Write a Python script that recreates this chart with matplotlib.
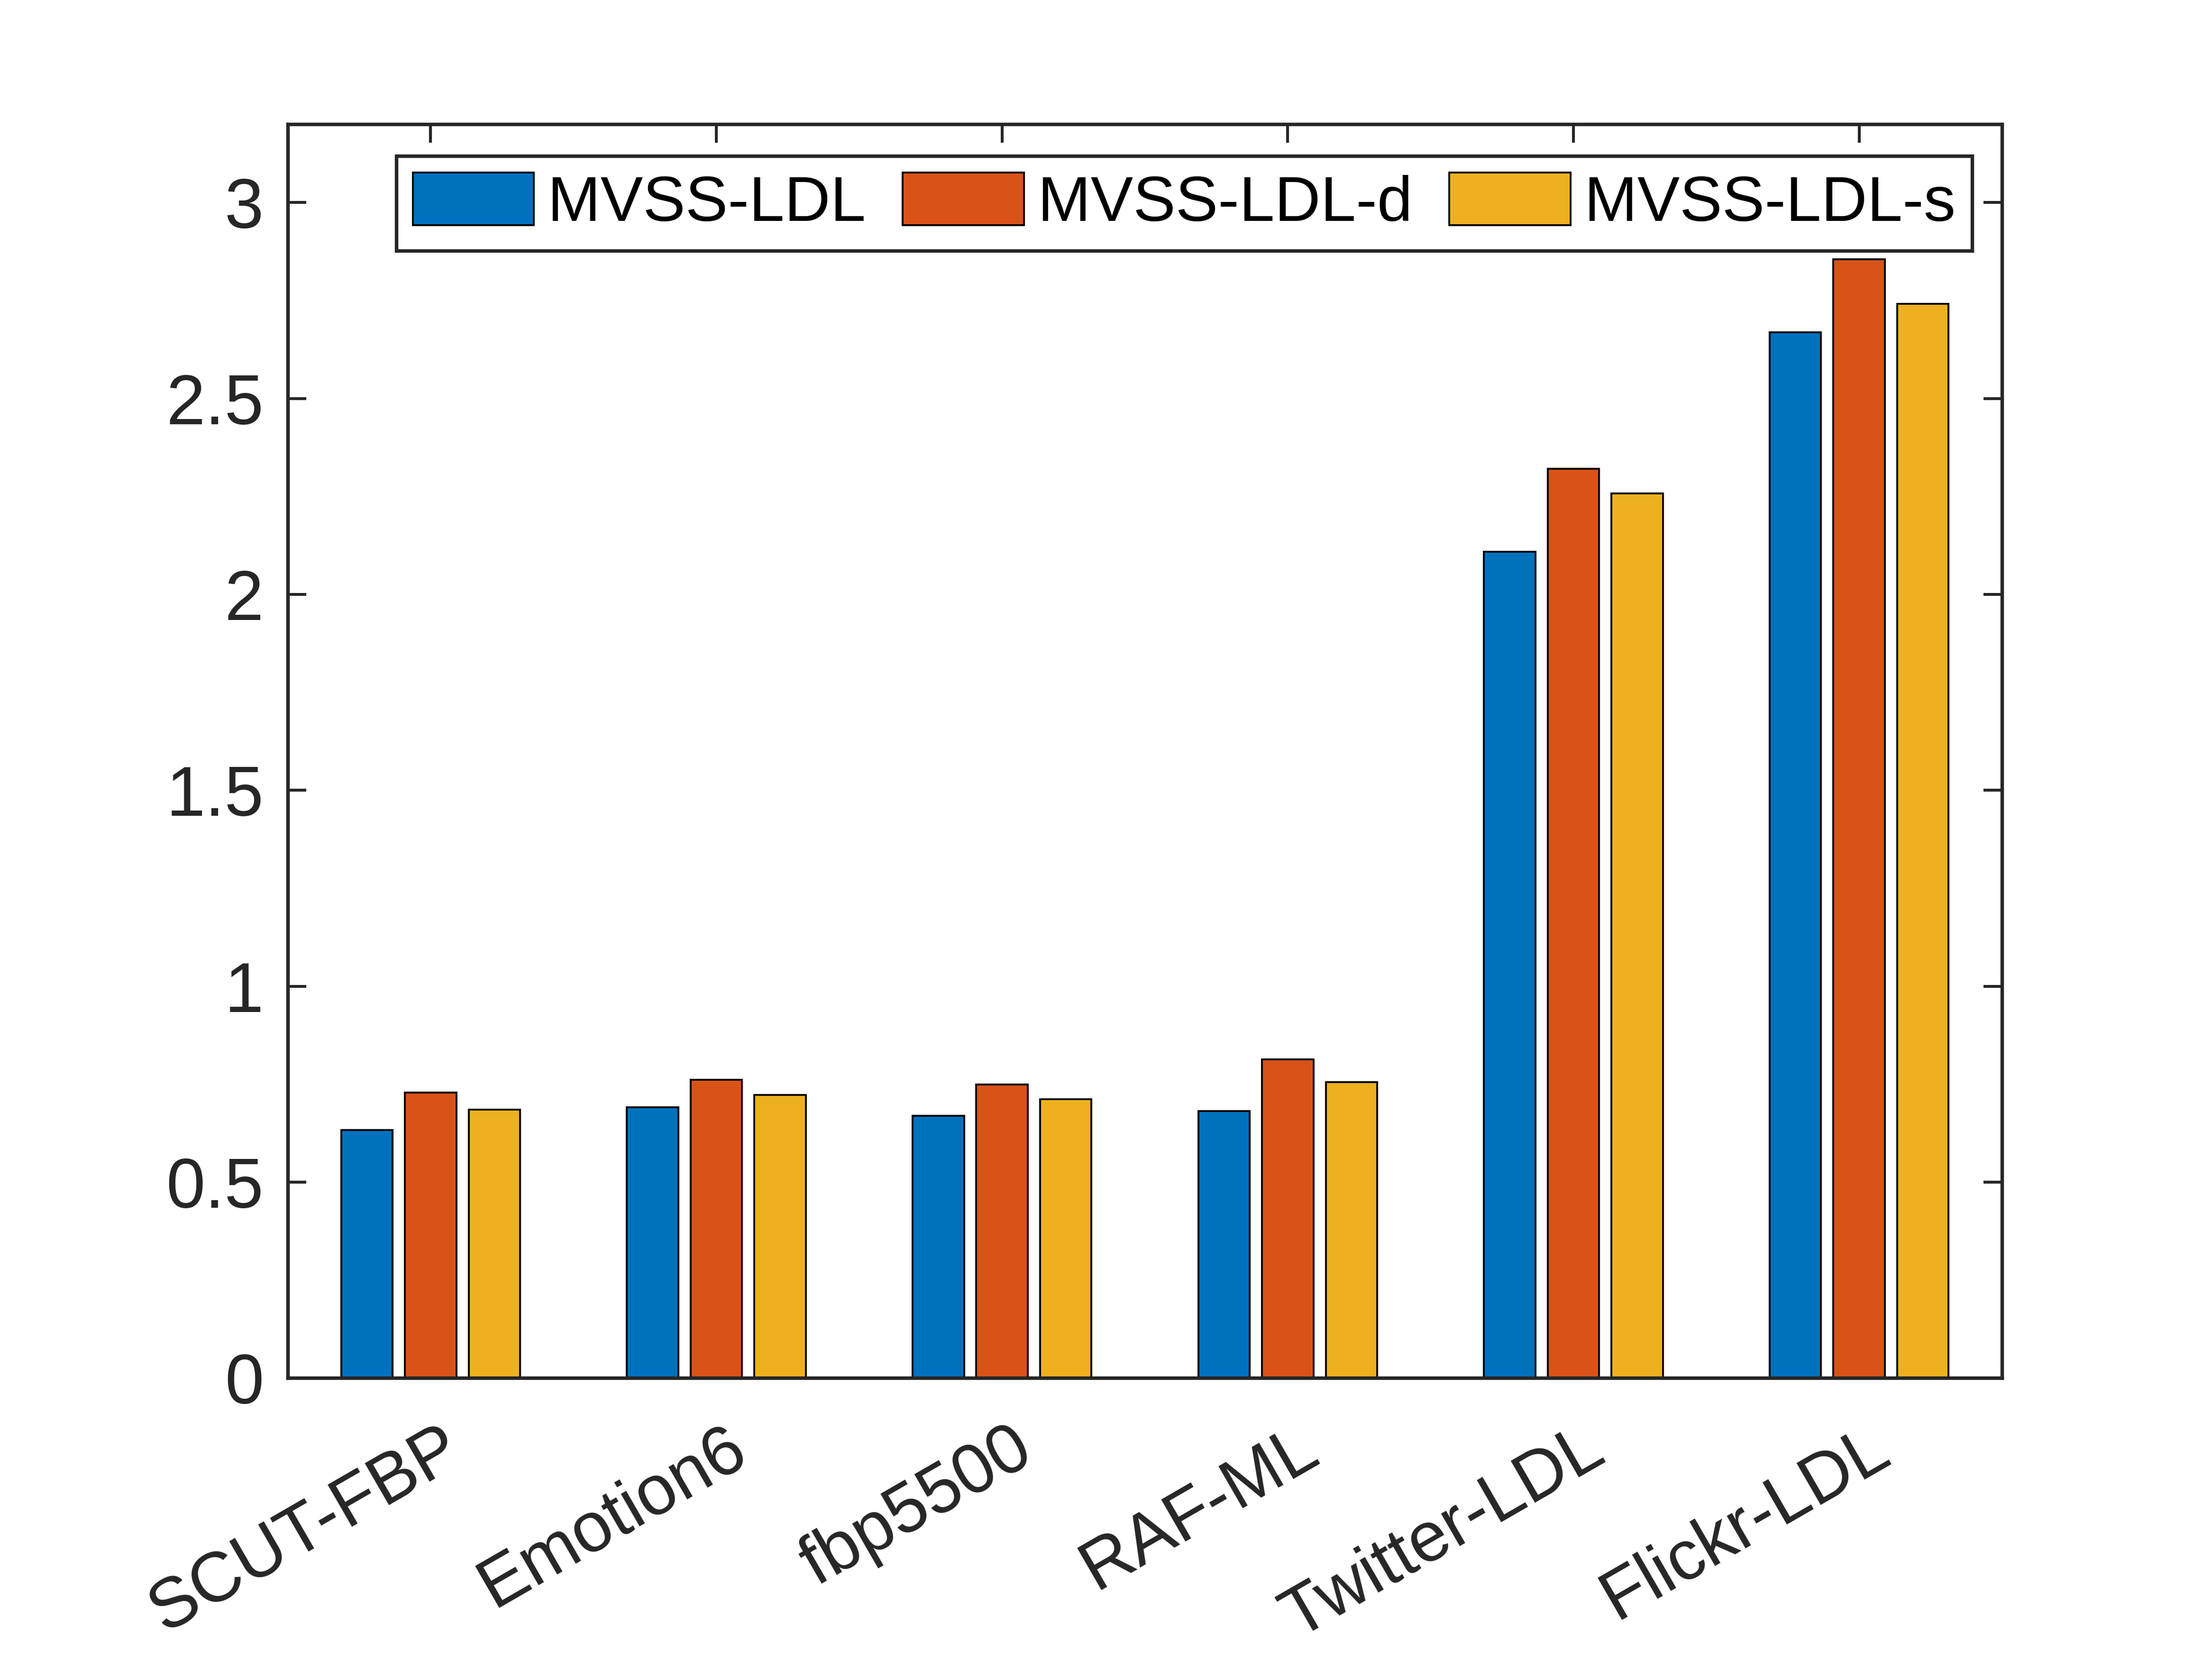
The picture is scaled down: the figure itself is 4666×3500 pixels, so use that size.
import numpy as np
import matplotlib
matplotlib.use("Agg")
import matplotlib.pyplot as plt
from matplotlib.transforms import ScaledTranslation

datasets = ["SCUT-FBP", "Emotion6", "fbp5500", "RAF-ML", "Twitter-LDL", "Flickr-LDL"]
mvss_ldl = [0.633, 0.691, 0.669, 0.681, 2.109, 2.669]
mvss_ldl_d = [0.729, 0.761, 0.749, 0.813, 2.321, 2.855]
mvss_ldl_s = [0.685, 0.722, 0.712, 0.755, 2.258, 2.741]
series_names = ["MVSS-LDL", "MVSS-LDL-d", "MVSS-LDL-s"]
colors = ["#0072BD", "#D95319", "#EDB120"]
yticks = [0, 0.5, 1, 1.5, 2, 2.5, 3]
ytick_labels = ["0", "0.5", "1", "1.5", "2", "2.5", "3"]

plt.rcParams["font.family"] = ["Liberation Sans", "DejaVu Sans"]
axis_color = "#262626"

fig = plt.figure(figsize=(14, 10.5), dpi=333.34)
ax = fig.add_axes([0.1301, 0.1694, 0.7748, 0.7557])

x = np.arange(1, len(datasets) + 1)
width = 0.18
offsets = [-0.223, 0.0, 0.223]
for vals, off, col, name in zip([mvss_ldl, mvss_ldl_d, mvss_ldl_s], offsets, colors, series_names):
    ax.bar(x + off, vals, width, color=col, edgecolor="black", linewidth=0.85,
           label=name, zorder=2)

ax.set_xlim(0.5, 6.5)
ax.set_ylim(0, 3.2)
ax.set_yticks(yticks)
ax.set_yticklabels(ytick_labels)
ax.set_xticks(x)
ax.set_xticklabels(datasets, rotation=30, ha="right", rotation_mode="anchor")

ax.tick_params(axis="both", which="both", direction="in", length=8.5, width=1.3,
               top=True, right=True, colors=axis_color, labelsize=32)
ax.tick_params(axis="y", pad=11)
ax.tick_params(axis="x", pad=17)
shift = ScaledTranslation(4 / 72, 0, fig.dpi_scale_trans)
for lab in ax.get_xticklabels():
    lab.set_transform(lab.get_transform() + shift)
for lab in ax.get_xticklabels() + ax.get_yticklabels():
    lab.set_color(axis_color)
for sp in ax.spines.values():
    sp.set_color(axis_color)
    sp.set_linewidth(1.6)
    sp.set_zorder(5)

leg = ax.legend(loc="upper right", bbox_to_anchor=(0.9826, 0.9747), borderaxespad=0,
                ncol=3, fontsize=29, frameon=True, fancybox=False,
                handlelength=1.9, handleheight=0.9, handletextpad=0.22,
                columnspacing=0.58, borderpad=0.26)
leg.get_frame().set_edgecolor(axis_color)
leg.get_frame().set_linewidth(1.6)
leg.get_frame().set_alpha(1)
for t in leg.get_texts():
    t.set_color("black")

fig.savefig("out.png", dpi=333.34, facecolor="white")
